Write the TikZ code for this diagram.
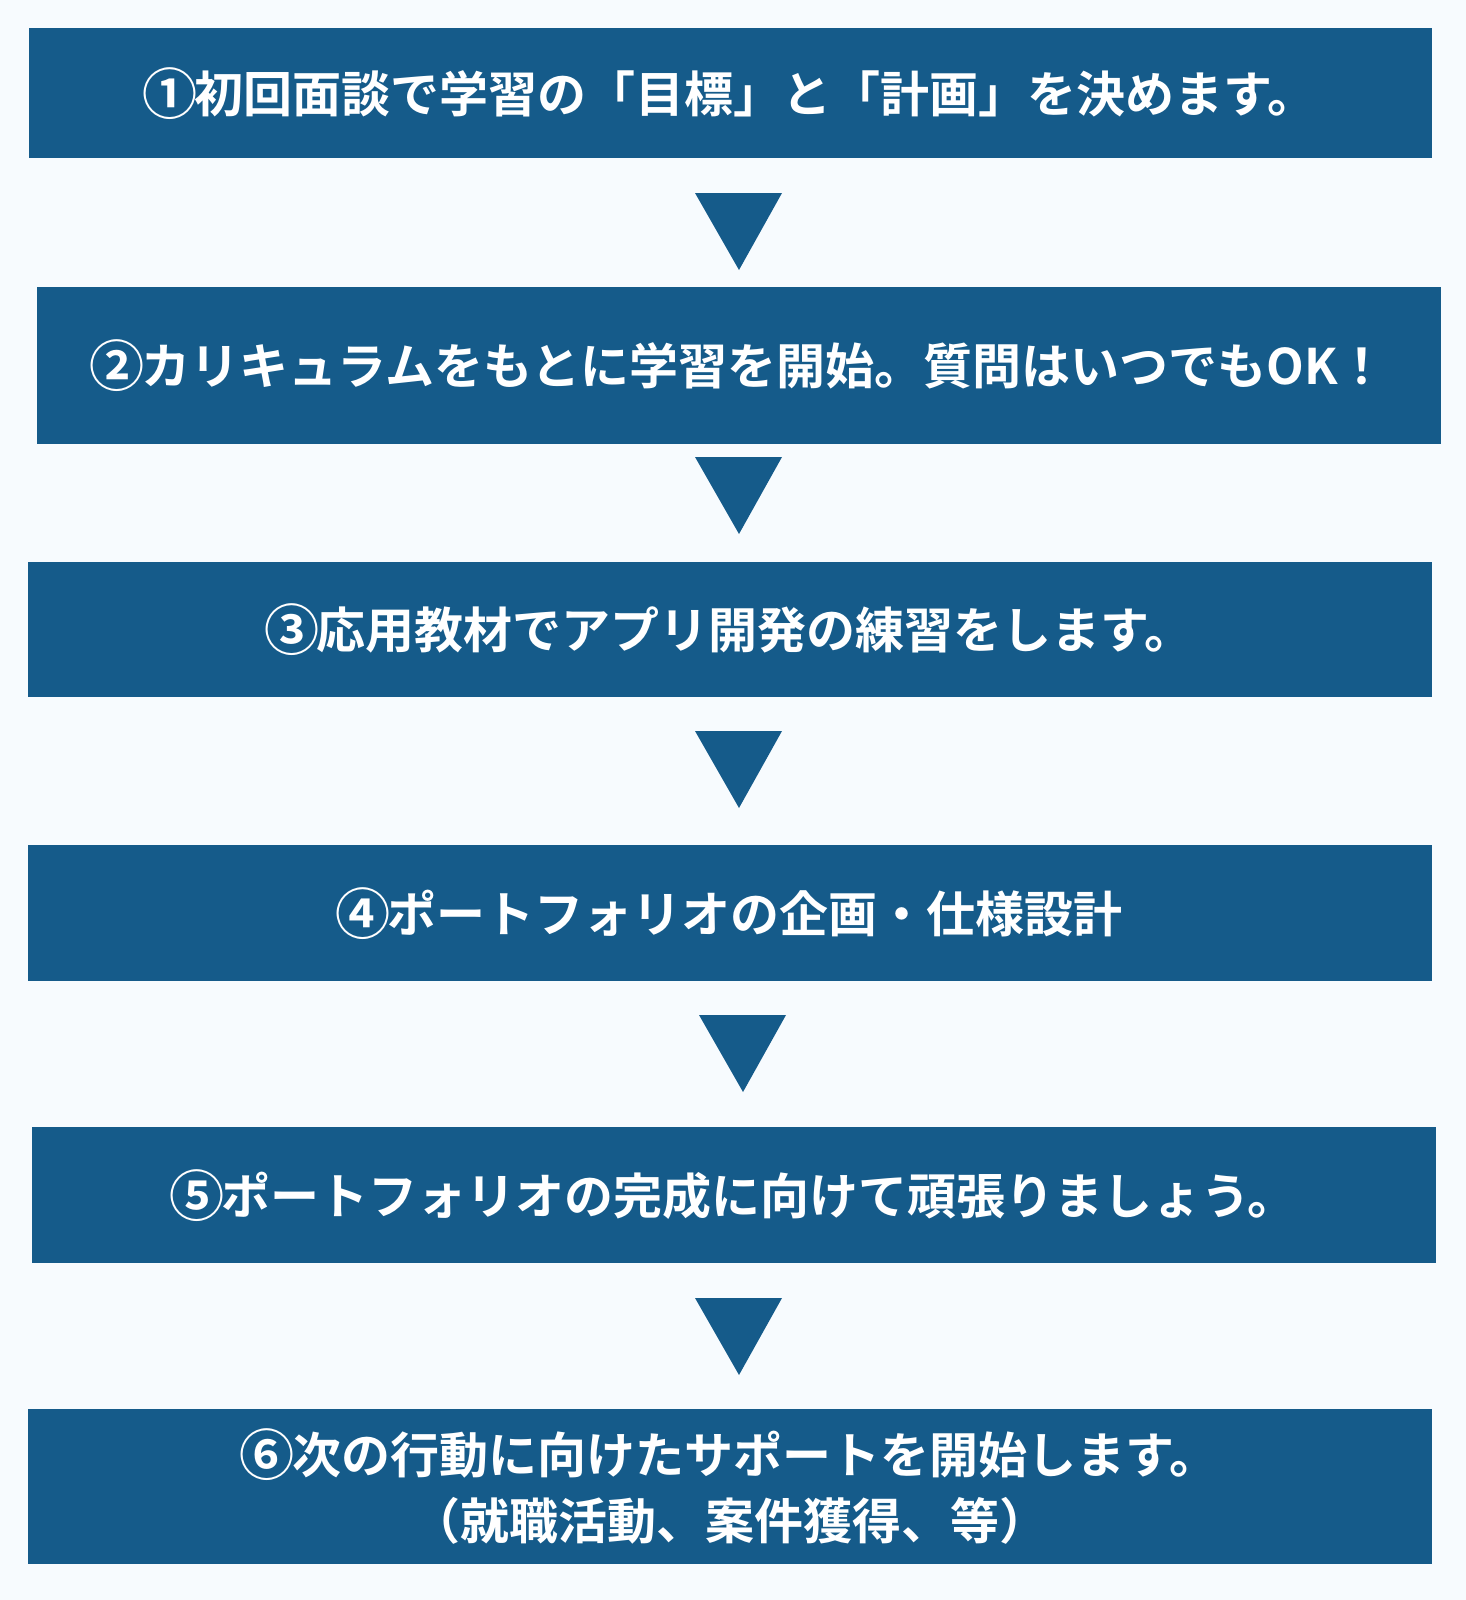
\documentclass[tikz,border=0pt]{standalone}
\usepackage{fontspec}
\setmainfont{Noto Sans CJK JP}[BoldFont={Noto Sans CJK JP Bold}]
\usetikzlibrary{positioning}

\definecolor{flowblue}{HTML}{155B8A}
\definecolor{pagebg}{HTML}{F7FBFE}

% larger circled step number
\newcommand{\circnum}[1]{\makebox[50pt]{\raisebox{-2pt}{\fontsize{55}{66}\selectfont #1}}}

\begin{document}
\begin{tikzpicture}[
    x=1pt, y=-1pt,
    stepbox/.style={rectangle, fill=flowblue, anchor=north west, inner sep=0pt, minimum height=#1, text=white, align=center, font=\fontsize{49}{66}\selectfont\bfseries},
    downtri/.style={fill=flowblue},
]

% Background
\fill[pagebg] (0,0) rectangle (1466,1600);
\useasboundingbox (0,0) rectangle (1466,1600);

% Steps
\node[stepbox=130pt, minimum width=1403pt] (s1) at (29,28) {\circnum{①}初回面談で学習の「目標」と「計画」を決めます。};
\node[stepbox=157pt, minimum width=1404pt] (s2) at (37,287) {\circnum{②}カリキュラムをもとに学習を開始。質問はいつでもOK！};
\node[stepbox=135pt, minimum width=1404pt] (s3) at (28,562) {\circnum{③}応用教材でアプリ開発の練習をします。};
\node[stepbox=136pt, minimum width=1404pt] (s4) at (28,845) {\circnum{④}ポートフォリオの企画・仕様設計};
\node[stepbox=136pt, minimum width=1404pt] (s5) at (32,1127) {\circnum{⑤}ポートフォリオの完成に向けて頑張りましょう。};
\node[stepbox=155pt, minimum width=1404pt] (s6) at (28,1409) {\circnum{⑥}次の行動に向けたサポートを開始します。\\（就職活動、案件獲得、等）};

% Arrows between steps
\coordinate (t1) at (739,193);
\coordinate (t2) at (739,457);
\coordinate (t3) at (739,731);
\coordinate (t4) at (743,1015);
\coordinate (t5) at (739,1298);
\foreach \t in {t1,t2,t3,t4,t5}
  \fill[downtri] ([xshift=-44pt]\t) -- ([xshift=43pt]\t) -- ([yshift=-77pt]\t) -- cycle;

\end{tikzpicture}
\end{document}
